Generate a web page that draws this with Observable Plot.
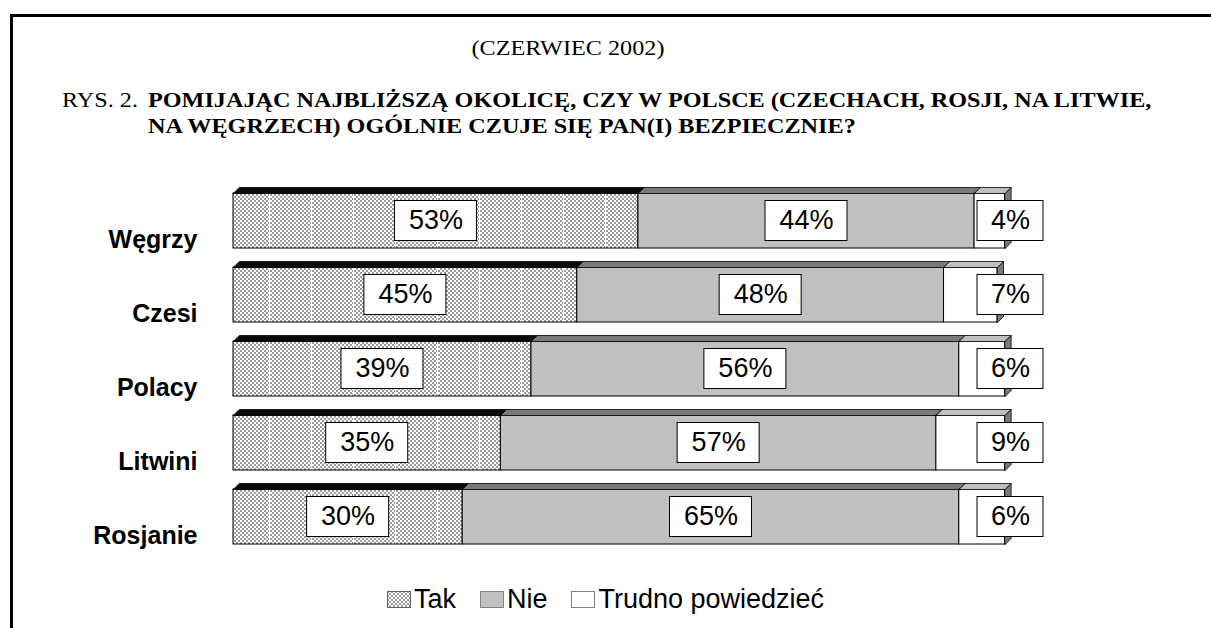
<!DOCTYPE html>
<html><head><meta charset="utf-8">
<script src="https://cdn.jsdelivr.net/npm/d3@7"></script>
<script src="https://cdn.jsdelivr.net/npm/@observablehq/plot@0.6"></script>
<style>
html,body{margin:0;padding:0;background:#fff;overflow:hidden;}
body{width:1211px;height:628px;position:relative;font-family:"Liberation Sans",Arial,sans-serif;}
#bg{position:absolute;left:0;top:0;}
.serif{font-family:"Liberation Serif","Times New Roman",serif;position:absolute;color:#000;white-space:nowrap;line-height:1;font-size:22px;}
#date{left:568px;top:37px;transform:translateX(-50%) scaleX(1.1);}
#rys{left:62px;top:89px;transform-origin:0 0;transform:scaleX(1.1);}
#q1{left:148px;top:89px;font-weight:bold;transform-origin:0 0;transform:scaleX(1.1);}
#q2{left:148px;top:115px;font-weight:bold;transform-origin:0 0;transform:scaleX(1.1);}
#chart{position:absolute;left:0;top:170px;width:1211px;height:400px;overflow:hidden;}
#legend{position:absolute;left:0;top:586px;width:1211px;display:flex;justify-content:center;align-items:center;font-size:27px;line-height:1;}
#legend .item{display:flex;align-items:center;margin:0 12px;}
</style>
</head>
<body>
<svg id="bg" width="1211" height="628">
  <defs>
    <pattern id="takPat" x="-24" y="0" width="42" height="4" patternUnits="userSpaceOnUse">
      <rect width="42" height="4" fill="#ffffff"/>
      <path d="M0,0h2v2h-2zM4,0h2v2h-2zM8,0h2v2h-2zM12,0h2v2h-2zM16,0h2v2h-2zM20,0h2v2h-2zM24,0h2v2h-2zM28,0h2v2h-2zM32,0h2v2h-2zM36,0h2v2h-2zM40,0h1v2h-1zM2,2h2v2h-2zM6,2h2v2h-2zM10,2h2v2h-2zM14,2h2v2h-2zM18,2h2v2h-2zM22,2h2v2h-2zM26,2h2v2h-2zM30,2h2v2h-2zM34,2h2v2h-2zM38,2h2v2h-2z" fill="#9a9a9a"/>
    </pattern>
    <pattern id="takSw" width="4" height="4" patternUnits="userSpaceOnUse">
      <rect width="4" height="4" fill="#ffffff"/>
      <rect width="2" height="2" fill="#9a9a9a"/>
      <rect x="2" y="2" width="2" height="2" fill="#9a9a9a"/>
    </pattern>
  </defs>
  <path d="M11.5,628V15.5H1211" fill="none" stroke="#000" stroke-width="3"/>
</svg>
<div class="serif" id="date">(CZERWIEC 2002)</div>
<div class="serif" id="rys">RYS. 2.</div>
<div class="serif" id="q1">POMIJAJĄC NAJBLIŻSZĄ OKOLICĘ, CZY W POLSCE (CZECHACH, ROSJI, NA LITWIE,</div>
<div class="serif" id="q2">NA WĘGRZECH) OGÓLNIE CZUJE SIĘ PAN(I) BEZPIECZNIE?</div>
<div id="chart"></div>
<div id="legend"></div>
<script>
const categories = ["Węgrzy", "Czesi", "Polacy", "Litwini", "Rosjanie"];
const tak = [53, 45, 39, 35, 30];
const nie = [44, 48, 56, 57, 65];
const trudno = [4, 7, 6, 9, 6];
const seriesNames = ["Tak", "Nie", "Trudno powiedzieć"];

const seriesValues = [tak, nie, trudno];
const frontFill = ["url(#takPat)", "#c0c0c0", "#ffffff"];
const swatchFill = ["url(#takSw)", "#c0c0c0", "#ffffff"];
const topFill = ["#0a0a0a", "#7a7a7a", "#c0c0c0"];

const W = 1211, H = 400;
const xDomain = [0, 100], xRange = [233, 997];
const yDomain = [0, 4], yRange = [50.5, 346.5];
const ux = (xDomain[1] - xDomain[0]) / (xRange[1] - xRange[0]);
const uy = (yDomain[1] - yDomain[0]) / (yRange[1] - yRange[0]);
const half = 27.5 * uy;
const dX = 6 * ux, dY = 6 * uy;

const segs = [];
categories.forEach((c, i) => {
  let acc = 0;
  seriesValues.forEach((vals, s) => {
    const v = vals[i];
    const x1 = acc, x2 = acc + v;
    const lx = s === 2 ? 100 + 13 * ux : (x1 + x2) / 2;
    segs.push({cat: c, i, s, series: seriesNames[s], value: v, x1, x2, lx});
    acc = x2;
  });
});

const topPts = [];
segs.forEach((d, k) => {
  const yt = d.i - half;
  [[d.x1, yt], [d.x2, yt], [d.x2 + dX, yt - dY], [d.x1 + dX, yt - dY]].forEach(([x, y]) =>
    topPts.push({id: k, s: d.s, x, y}));
});
const sidePts = [];
segs.filter(d => d.s === 2).forEach((d, k) => {
  const yt = d.i - half, yb = d.i + half;
  [[d.x2, yt], [d.x2 + dX, yt - dY], [d.x2 + dX, yb - dY], [d.x2, yb]].forEach(([x, y]) =>
    sidePts.push({id: k, x, y}));
});

const font = "Liberation Sans, Arial, sans-serif";
const marks = [];
for (let s = 0; s < 3; s++) {
  marks.push(Plot.rect(segs.filter(d => d.s === s), {
    x1: "x1", x2: "x2", y1: d => d.i - half, y2: d => d.i + half,
    fill: frontFill[s], stroke: "#000", strokeWidth: 1
  }));
  marks.push(Plot.line(topPts.filter(d => d.s === s), {
    x: "x", y: "y", z: "id", curve: "linear-closed",
    fill: topFill[s], stroke: "#000", strokeWidth: 0.8
  }));
}
marks.push(Plot.line(sidePts, {
  x: "x", y: "y", z: "id", curve: "linear-closed",
  fill: "#7a7a7a", stroke: "#000", strokeWidth: 0.8
}));
const big = segs.filter(d => d.s < 2), small = segs.filter(d => d.s === 2);
marks.push(Plot.rect(big, {
  x1: d => d.lx - 41 * ux, x2: d => d.lx + 41 * ux,
  y1: d => d.i - 20 * uy, y2: d => d.i + 20 * uy,
  fill: "#fff", stroke: "#000", strokeWidth: 1
}));
marks.push(Plot.rect(small, {
  x1: d => d.lx - 33 * ux, x2: d => d.lx + 33 * ux,
  y1: d => d.i - 20 * uy, y2: d => d.i + 20 * uy,
  fill: "#fff", stroke: "#000", strokeWidth: 1
}));
marks.push(Plot.text(segs, {
  x: "lx", y: "i", text: d => d.value + "%",
  fontSize: 27, fontFamily: font, fill: "#000", dy: -1
}));
marks.push(Plot.text(categories, {
  x: d => 0, y: (d, i) => i, text: d => d,
  textAnchor: "end", dx: -36, dy: 19,
  fontSize: 25, fontWeight: "bold", fontFamily: font, fill: "#000"
}));

const chart = Plot.plot({
  width: W, height: H,
  margin: 0,
  x: {domain: xDomain, range: xRange, axis: null},
  y: {domain: yDomain, range: yRange, axis: null},
  style: {background: "transparent"},
  marks
});
document.getElementById("chart").appendChild(chart);

const legend = document.getElementById("legend");
seriesNames.forEach((name, s) => {
  const item = document.createElement("div");
  item.className = "item";
  const sw = document.createElementNS("http://www.w3.org/2000/svg", "svg");
  sw.setAttribute("width", 24); sw.setAttribute("height", 17);
  sw.style.marginRight = "3px";
  const r = document.createElementNS("http://www.w3.org/2000/svg", "rect");
  r.setAttribute("x", 0.5); r.setAttribute("y", 0.5);
  r.setAttribute("width", 23); r.setAttribute("height", 16);
  r.setAttribute("fill", swatchFill[s]);
  r.setAttribute("stroke", s === 0 ? "#606060" : "#808080");
  sw.appendChild(r);
  const t = document.createElement("span");
  t.textContent = name;
  item.appendChild(sw); item.appendChild(t);
  legend.appendChild(item);
});
</script>
</body></html>
